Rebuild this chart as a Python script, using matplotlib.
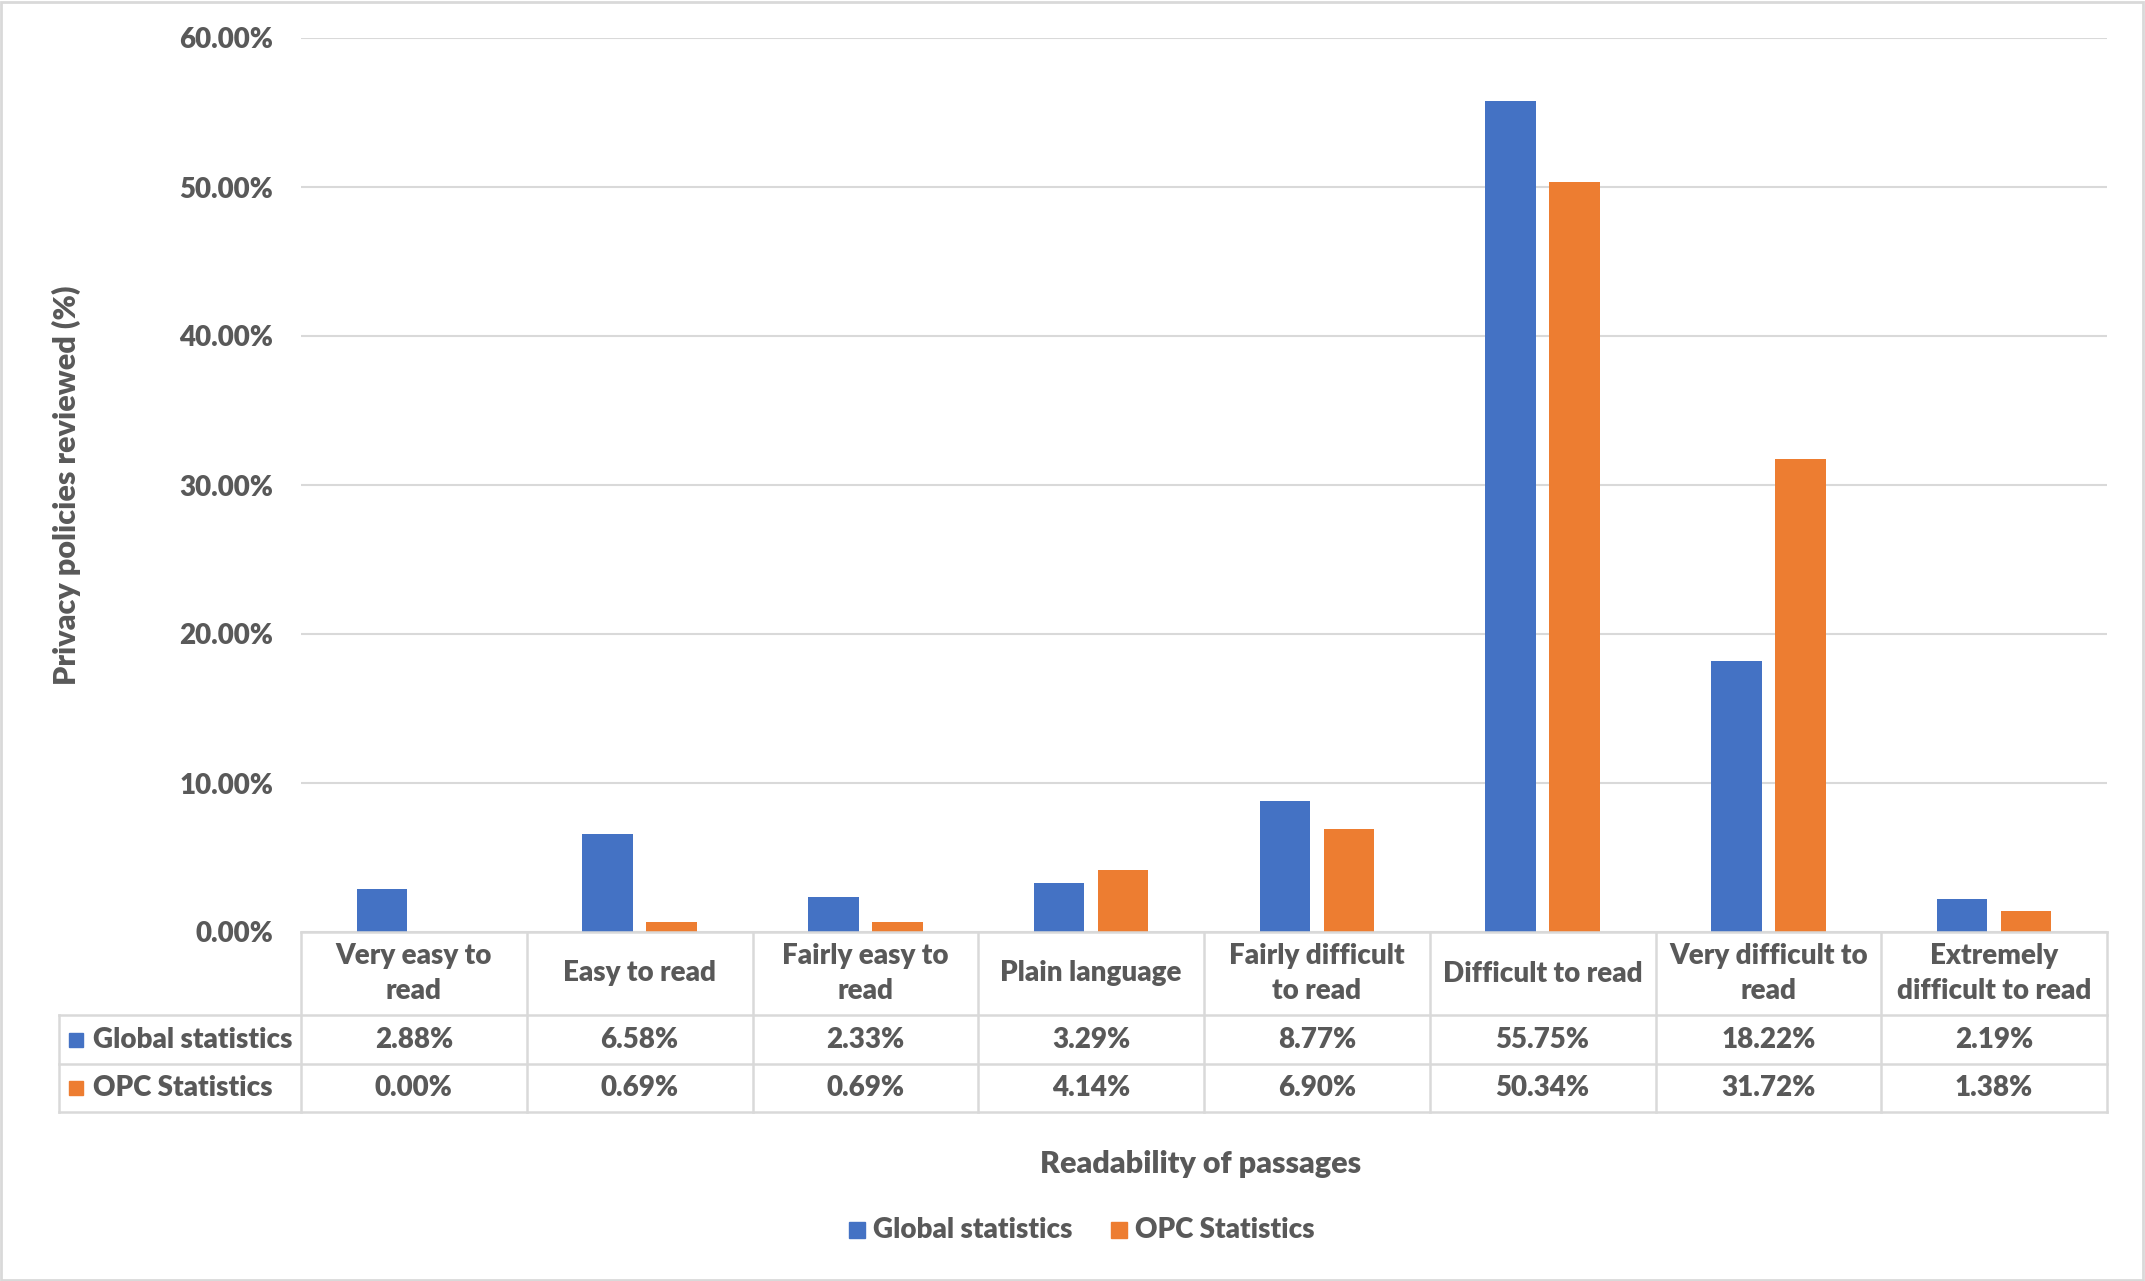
import matplotlib
matplotlib.use("Agg")
import matplotlib.pyplot as plt
from matplotlib.patches import Rectangle
from matplotlib.transforms import blended_transform_factory

# datos
categorias = ["Very easy to\nread", "Easy to read", "Fairly easy to\nread", "Plain language",
              "Fairly difficult\nto read", "Difficult to read", "Very difficult to\nread",
              "Extremely\ndifficult to read"]
global_stats = [2.88, 6.58, 2.33, 3.29, 8.77, 55.75, 18.22, 2.19]
opc_stats = [0.00, 0.69, 0.69, 4.14, 6.90, 50.34, 31.72, 1.38]
series = ["Global statistics", "OPC Statistics"]
yticks = [0, 10, 20, 30, 40, 50, 60]

AZUL = "#4472C4"
NARANJA = "#ED7D31"
GRIS = "#595959"
LINEA = "#D9D9D9"
PESO = "heavy"
FS = 20

plt.rcParams["font.family"] = ["Lato", "DejaVu Sans"]
plt.rcParams["font.weight"] = PESO

W, H = 2145, 1281
fig = plt.figure(figsize=(W / 100, H / 100), dpi=100)

def fy(px):
    # pixel vertical (desde arriba) -> fraccion de figura
    return 1 - px / H

ax = fig.add_axes([301 / W, fy(932), (2107 - 301) / W, (932 - 38) / H])

x = list(range(len(categorias)))
ancho = 0.224
ax.bar([i - 0.142 for i in x], global_stats, width=ancho, color=AZUL, zorder=3)
ax.bar([i + 0.142 for i in x], opc_stats, width=ancho, color=NARANJA, zorder=3)

ax.set_xlim(-0.5, len(categorias) - 0.5)
ax.set_ylim(0, 60)
ax.set_yticks(yticks)
ax.set_yticklabels([f"{v:.2f}%" for v in yticks], fontsize=FS, color=GRIS, fontweight=PESO)
ax.tick_params(axis="y", length=0, pad=20)
ax.set_xticks([])
ax.yaxis.grid(True, color=LINEA, linewidth=1.5, zorder=0)
for s in ax.spines.values():
    s.set_visible(False)

ax.set_ylabel("Privacy policies reviewed (%)", fontsize=22, color=GRIS, fontweight=PESO)
ax.yaxis.set_label_coords((81 - 301) / (2107 - 301), 0.5)

# tabla de datos debajo del eje
tr = blended_transform_factory(ax.transData, fig.transFigure)
x_izq = -0.5 - (301 - 59) / ((2107 - 301) / len(categorias))
x_der = len(categorias) - 0.5
y_top, y_h, y_r1, y_r2 = fy(932), fy(1015), fy(1064), fy(1112)
lw = 1.8

def hline(x0, x1, y):
    fig.add_artist(plt.Line2D([x0, x1], [y, y], transform=tr, color=LINEA, lw=lw))

def vline(xx, y0, y1):
    fig.add_artist(plt.Line2D([xx, xx], [y0, y1], transform=tr, color=LINEA, lw=lw))

hline(-0.5, x_der, y_top)
for y in (y_h, y_r1, y_r2):
    hline(x_izq, x_der, y)
vline(x_izq, y_h, y_r2)
for i in range(len(categorias) + 1):
    vline(i - 0.5, y_top, y_r2)

for i, cat in enumerate(categorias):
    fig.text(i, (y_top + y_h) / 2, cat, transform=tr, ha="center", va="center",
             fontsize=FS, color=GRIS, fontweight=PESO, linespacing=1.45)
    fig.text(i, (y_h + y_r1) / 2, f"{global_stats[i]:.2f}%", transform=tr, ha="center",
             va="center", fontsize=FS, color=GRIS, fontweight=PESO)
    fig.text(i, (y_r1 + y_r2) / 2, f"{opc_stats[i]:.2f}%", transform=tr, ha="center",
             va="center", fontsize=FS, color=GRIS, fontweight=PESO)

# etiquetas de fila con su marcador
for (y0, y1), nombre, color in zip([(y_h, y_r1), (y_r1, y_r2)], series, [AZUL, NARANJA]):
    ym = (y0 + y1) / 2
    fig.add_artist(Rectangle((69 / W, ym - 7 / H), 14 / W, 14 / H, transform=fig.transFigure,
                             color=color))
    fig.text(93 / W, ym, nombre, ha="left", va="center", fontsize=FS, color=GRIS,
             fontweight=PESO)

fig.text(1201 / W, fy(1164), "Readability of passages", ha="center", va="center",
         fontsize=22, color=GRIS, fontweight=PESO)

# leyenda abajo
fig.add_artist(Rectangle((849 / W, fy(1230) - 8 / H), 16 / W, 16 / H,
                         transform=fig.transFigure, color=AZUL))
fig.text(873 / W, fy(1230), series[0], ha="left", va="center", fontsize=FS, color=GRIS,
         fontweight=PESO)
fig.add_artist(Rectangle((1111 / W, fy(1230) - 8 / H), 16 / W, 16 / H,
                         transform=fig.transFigure, color=NARANJA))
fig.text(1135 / W, fy(1230), series[1], ha="left", va="center", fontsize=FS, color=GRIS,
         fontweight=PESO)

# borde del grafico
fig.add_artist(Rectangle((1 / W, 1 / H), 1 - 3 / W, 1 - 3 / H, transform=fig.transFigure,
                         fill=False, edgecolor=LINEA, lw=2))

fig.savefig("out.png", dpi=100)
